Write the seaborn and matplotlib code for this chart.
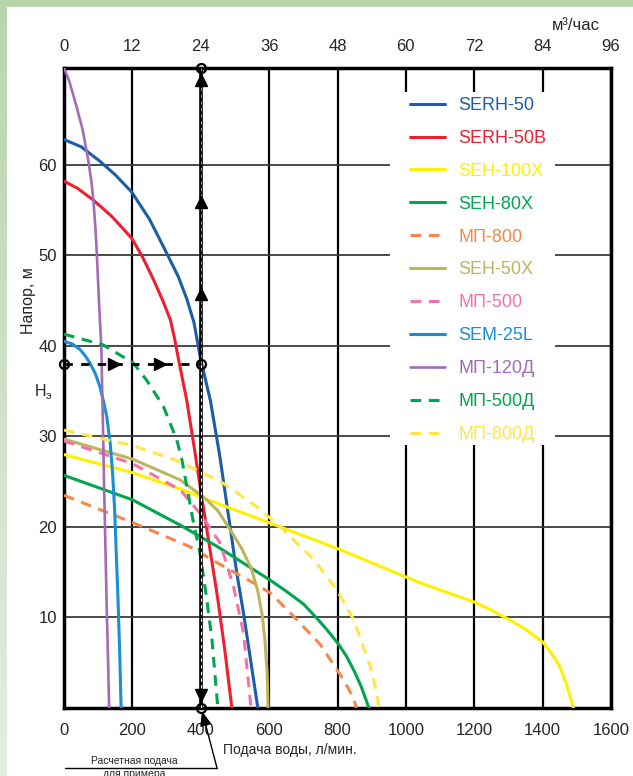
import numpy as np
import matplotlib.pyplot as plt
import seaborn as sns
from matplotlib.patches import Rectangle
from matplotlib.lines import Line2D

# -----------------------------
# Data: pump curves, flow (l/min) vs head (m)
# -----------------------------
q_serh50 = [0, 50, 105, 150, 198, 250, 301, 335, 360, 380, 400, 428, 455, 486, 505, 525, 545, 567]
h_serh50 = [62.8, 62.0, 60.4, 58.9, 57.0, 54.0, 50.2, 47.6, 45.1, 42.6, 38.5, 34.0, 28.0, 20.0, 15.0, 10.5, 5.5, 0]

q_serh50b = [0, 40, 86, 140, 198, 230, 262, 290, 311, 323, 335, 359, 380, 403, 425, 450, 470, 491]
h_serh50b = [58.2, 57.4, 56.1, 54.3, 51.9, 49.8, 47.3, 44.9, 42.9, 40.9, 38.5, 34.0, 29.0, 23.3, 18.0, 12.0, 6.5, 0]

q_seh100x = [0, 200, 340, 400, 633, 800, 1043, 1200, 1250, 1300, 1350, 1400, 1425, 1450, 1470, 1490]
h_seh100x = [28.0, 26.0, 24.2, 23.3, 20.0, 17.6, 13.8, 11.7, 10.8, 9.8, 8.7, 7.3, 6.1, 4.6, 2.6, 0]

q_seh80x = [0, 200, 340, 450, 604, 650, 700, 740, 770, 800, 825, 850, 870, 892]
h_seh80x = [25.7, 23.0, 20.2, 17.8, 14.1, 12.9, 11.5, 9.9, 8.6, 7.2, 5.8, 4.0, 2.3, 0]

q_mp800 = [0, 200, 369, 450, 555, 604, 662, 750, 818, 847, 855]
h_mp800 = [23.5, 20.5, 17.8, 16.0, 13.8, 12.7, 10.5, 7.0, 3.1, 1.1, 0]

q_seh50x = [0, 200, 340, 408, 450, 486, 520, 548, 567, 580, 588, 594, 597]
h_seh50x = [29.7, 27.5, 25.2, 23.3, 21.8, 19.7, 17.6, 15.4, 12.9, 10.2, 7.4, 4.0, 0]

q_mp500 = [0, 200, 340, 398, 457, 496, 525, 547]
h_mp500 = [29.5, 27.0, 24.1, 21.5, 18.2, 13.4, 8.3, 0]

q_sem25l = [0, 25, 47, 62, 76, 92, 105, 116, 125, 135, 142, 148, 153, 158, 163, 167]
h_sem25l = [40.5, 40.2, 39.6, 38.9, 38.1, 36.9, 35.5, 33.8, 32.2, 29.3, 26.0, 22.0, 17.0, 12.0, 6.0, 0]

q_mp120d = [0, 15, 37, 55, 71, 80, 86, 92, 96, 101, 105, 109, 113, 117, 121, 125, 129, 132]
h_mp120d = [70.7, 69.3, 66.4, 63.8, 60.5, 58.2, 56.1, 53.0, 50.2, 46.0, 42.9, 40.0, 33.0, 25.0, 18.0, 11.0, 5.0, 0]

q_mp500d = [0, 115, 203, 242, 291, 330, 345, 379, 398, 418, 433, 450]
h_mp500d = [41.3, 40.1, 38.1, 36.2, 33.3, 29.6, 27.4, 20.4, 17.1, 11.9, 7.5, 0]

q_mp800d = [0, 200, 340, 467, 565, 633, 731, 799, 848, 896, 916, 920]
h_mp800d = [30.7, 29.0, 27.2, 24.8, 22.2, 20.0, 16.4, 13.0, 9.7, 4.6, 1.6, 0]

names = ["SERH-50", "SERH-50B", "SEH-100X", "SEH-80X", "МП-800", "SEH-50X",
         "МП-500", "SEM-25L", "МП-120Д", "МП-500Д", "МП-800Д"]

# operating point of the example
op_q = 400
op_h = 38
right_arrows_q = [147, 281]
up_arrows_h = [69.4, 55.9, 45.7]

x_ticks = [0, 200, 400, 600, 800, 1000, 1200, 1400, 1600]
top_ticks = [0, 12, 24, 36, 48, 60, 72, 84, 96]
y_ticks = [10, 20, 30, 40, 50, 60]

# -----------------------------
# Style
# -----------------------------
sns.set_style("white")
plt.rcParams["font.family"] = ["Liberation Sans", "DejaVu Sans"]

W, H = 633, 776
fig = plt.figure(figsize=(W / 100, H / 100), dpi=100)

# green page border
bg = fig.add_axes([0, 0, 1, 1], zorder=-10)
bg.axis("off")
bg.add_patch(Rectangle((0, 0), W, 7, color="#b9d5ae", lw=0))
grad = np.linspace(0, 1, 200)[:, None]
bg.imshow(grad, extent=[0, 7, H, 7], aspect="auto",
          cmap=sns.blend_palette(["#b9d5ae", "#e4eee0"], as_cmap=True))
bg.set_xlim(0, W)
bg.set_ylim(H, 0)

ax = fig.add_axes([64 / W, 68 / H, 547 / W, 640 / H])
ymax = 70.7

curves = [
    (names[0], q_serh50, h_serh50, "#1a5ea8", "-", 2.2),
    (names[1], q_serh50b, h_serh50b, "#ee1f30", "-", 2.2),
    (names[2], q_seh100x, h_seh100x, "#fff000", "-", 2.2),
    (names[3], q_seh80x, h_seh80x, "#00a550", "-", 2.2),
    (names[4], q_mp800, h_mp800, "#f5884a", (0, (3.5, 2.5)), 2.2),
    (names[5], q_seh50x, h_seh50x, "#bdb55e", "-", 2.2),
    (names[6], q_mp500, h_mp500, "#f272aa", (0, (3.5, 2.5)), 2.2),
    (names[7], q_sem25l, h_sem25l, "#1a8ed6", "-", 2.2),
    (names[8], q_mp120d, h_mp120d, "#a46ab4", "-", 1.9),
    (names[9], q_mp500d, h_mp500d, "#00a550", (0, (3.5, 2.5)), 2.2),
    (names[10], q_mp800d, h_mp800d, "#ffe548", (0, (3.5, 2.5)), 2.2),
]

for name, q, h, col, ls, lw in curves:
    sns.lineplot(x=q, y=h, ax=ax, color=col, linestyle=ls, linewidth=lw,
                 label=name, errorbar=None, sort=False, zorder=3)

# white box behind the legend
ax.add_patch(Rectangle((955, 29.0), 481, 39.0, facecolor="white",
                       edgecolor="none", zorder=1))

# construction lines for the example
ax.plot([op_q, op_q], [0, ymax], color="black", lw=2.6, zorder=4,
        solid_capstyle="butt")
ax.plot([op_q, op_q], [0, op_h], color="white", lw=0.8, ls=(0, (3, 3)), zorder=4.1)
ax.plot([op_q, op_q], [op_h, ymax], color="#aaaaaa", lw=0.6, ls=(0, (4, 4)), zorder=4.1)
ax.plot([0, op_q], [op_h, op_h], color="black", lw=2.0, ls=(0, (3, 3)), zorder=4)

ax.plot(right_arrows_q, [op_h] * len(right_arrows_q), ">", color="black", ms=9, zorder=5)
ax.plot([op_q] * len(up_arrows_h), up_arrows_h, "^", color="black", ms=9, zorder=5)
ax.plot([op_q], [1.4], "v", color="black", ms=9, zorder=5)
ax.plot([0, op_q, op_q, op_q], [op_h, op_h, ymax, 0], "o", ms=6.5, mfc="none",
        mec="black", mew=1.6, zorder=6, clip_on=False)

# axes, grid, ticks
ax.set_xlim(0, 1600)
ax.set_ylim(0, ymax)
ax.set_xticks(x_ticks)
ax.set_yticks(y_ticks)
ax.set_axisbelow(True)
ax.xaxis.grid(True, color="black", lw=1.6)
ax.yaxis.grid(True, color="#3c3c3c", lw=1.3)
ax.tick_params(axis="x", length=0, pad=11, labelsize=12)
ax.tick_params(axis="y", length=0, pad=5, labelsize=12)
ax.set_xlabel("")
ax.set_ylabel("")
for sp in ax.spines.values():
    sp.set_visible(True)
    sp.set_color("black")
    sp.set_linewidth(2.5)

ax2 = ax.twiny()
ax2.set_xlim(0, 96)
ax2.set_xticks(top_ticks)
ax2.tick_params(axis="x", length=0, pad=10, labelsize=12)
for sp in ax2.spines.values():
    sp.set_visible(False)

# legend
handles, labels = ax.get_legend_handles_labels()
ax.legend(handles, labels, loc="upper left", bbox_to_anchor=(410 / W, 1 - 97 / H),
          bbox_transform=fig.transFigure, frameon=False, borderpad=0,
          borderaxespad=0, handlelength=1.95, handletextpad=0.72,
          labelspacing=0.88, fontsize=13, labelcolor="linecolor")

# texts
fig.text(600 / W, 1 - 26 / H, "м³/час", ha="right", va="center", fontsize=12)
fig.text(28 / W, 1 - 301 / H, "Напор, м", ha="center", va="center",
         rotation=90, fontsize=11.5)
fig.text(41 / W, 1 - 392 / H, "H", ha="center", va="center", fontsize=11.5)
fig.text(48.5 / W, 1 - 396 / H, "э", ha="center", va="center", fontsize=8)
fig.text(290 / W, 1 - 750 / H, "Подача воды, л/мин.", ha="center", va="center",
         fontsize=10)

narrow = ["Liberation Sans Narrow", "Liberation Sans", "DejaVu Sans"]
fig.text(134 / W, 1 - 761 / H, "Расчетная подача", ha="center", va="center",
         fontsize=7.5, family=narrow)
fig.text(134 / W, 1 - 774 / H, "для примера", ha="center", va="center",
         fontsize=7.5, family=narrow)
fig.add_artist(Line2D([65 / W, 217 / W], [8 / H, 8 / H], transform=fig.transFigure,
                      color="black", lw=1))
ax.annotate("", xy=(202, H - 711), xycoords="figure pixels",
            xytext=(217, H - 768), textcoords="figure pixels",
            arrowprops=dict(arrowstyle="-|>,head_length=0.9,head_width=0.35",
                            color="black", lw=1, shrinkA=0, shrinkB=0),
            annotation_clip=False)

fig.savefig("out.png", dpi=100)
